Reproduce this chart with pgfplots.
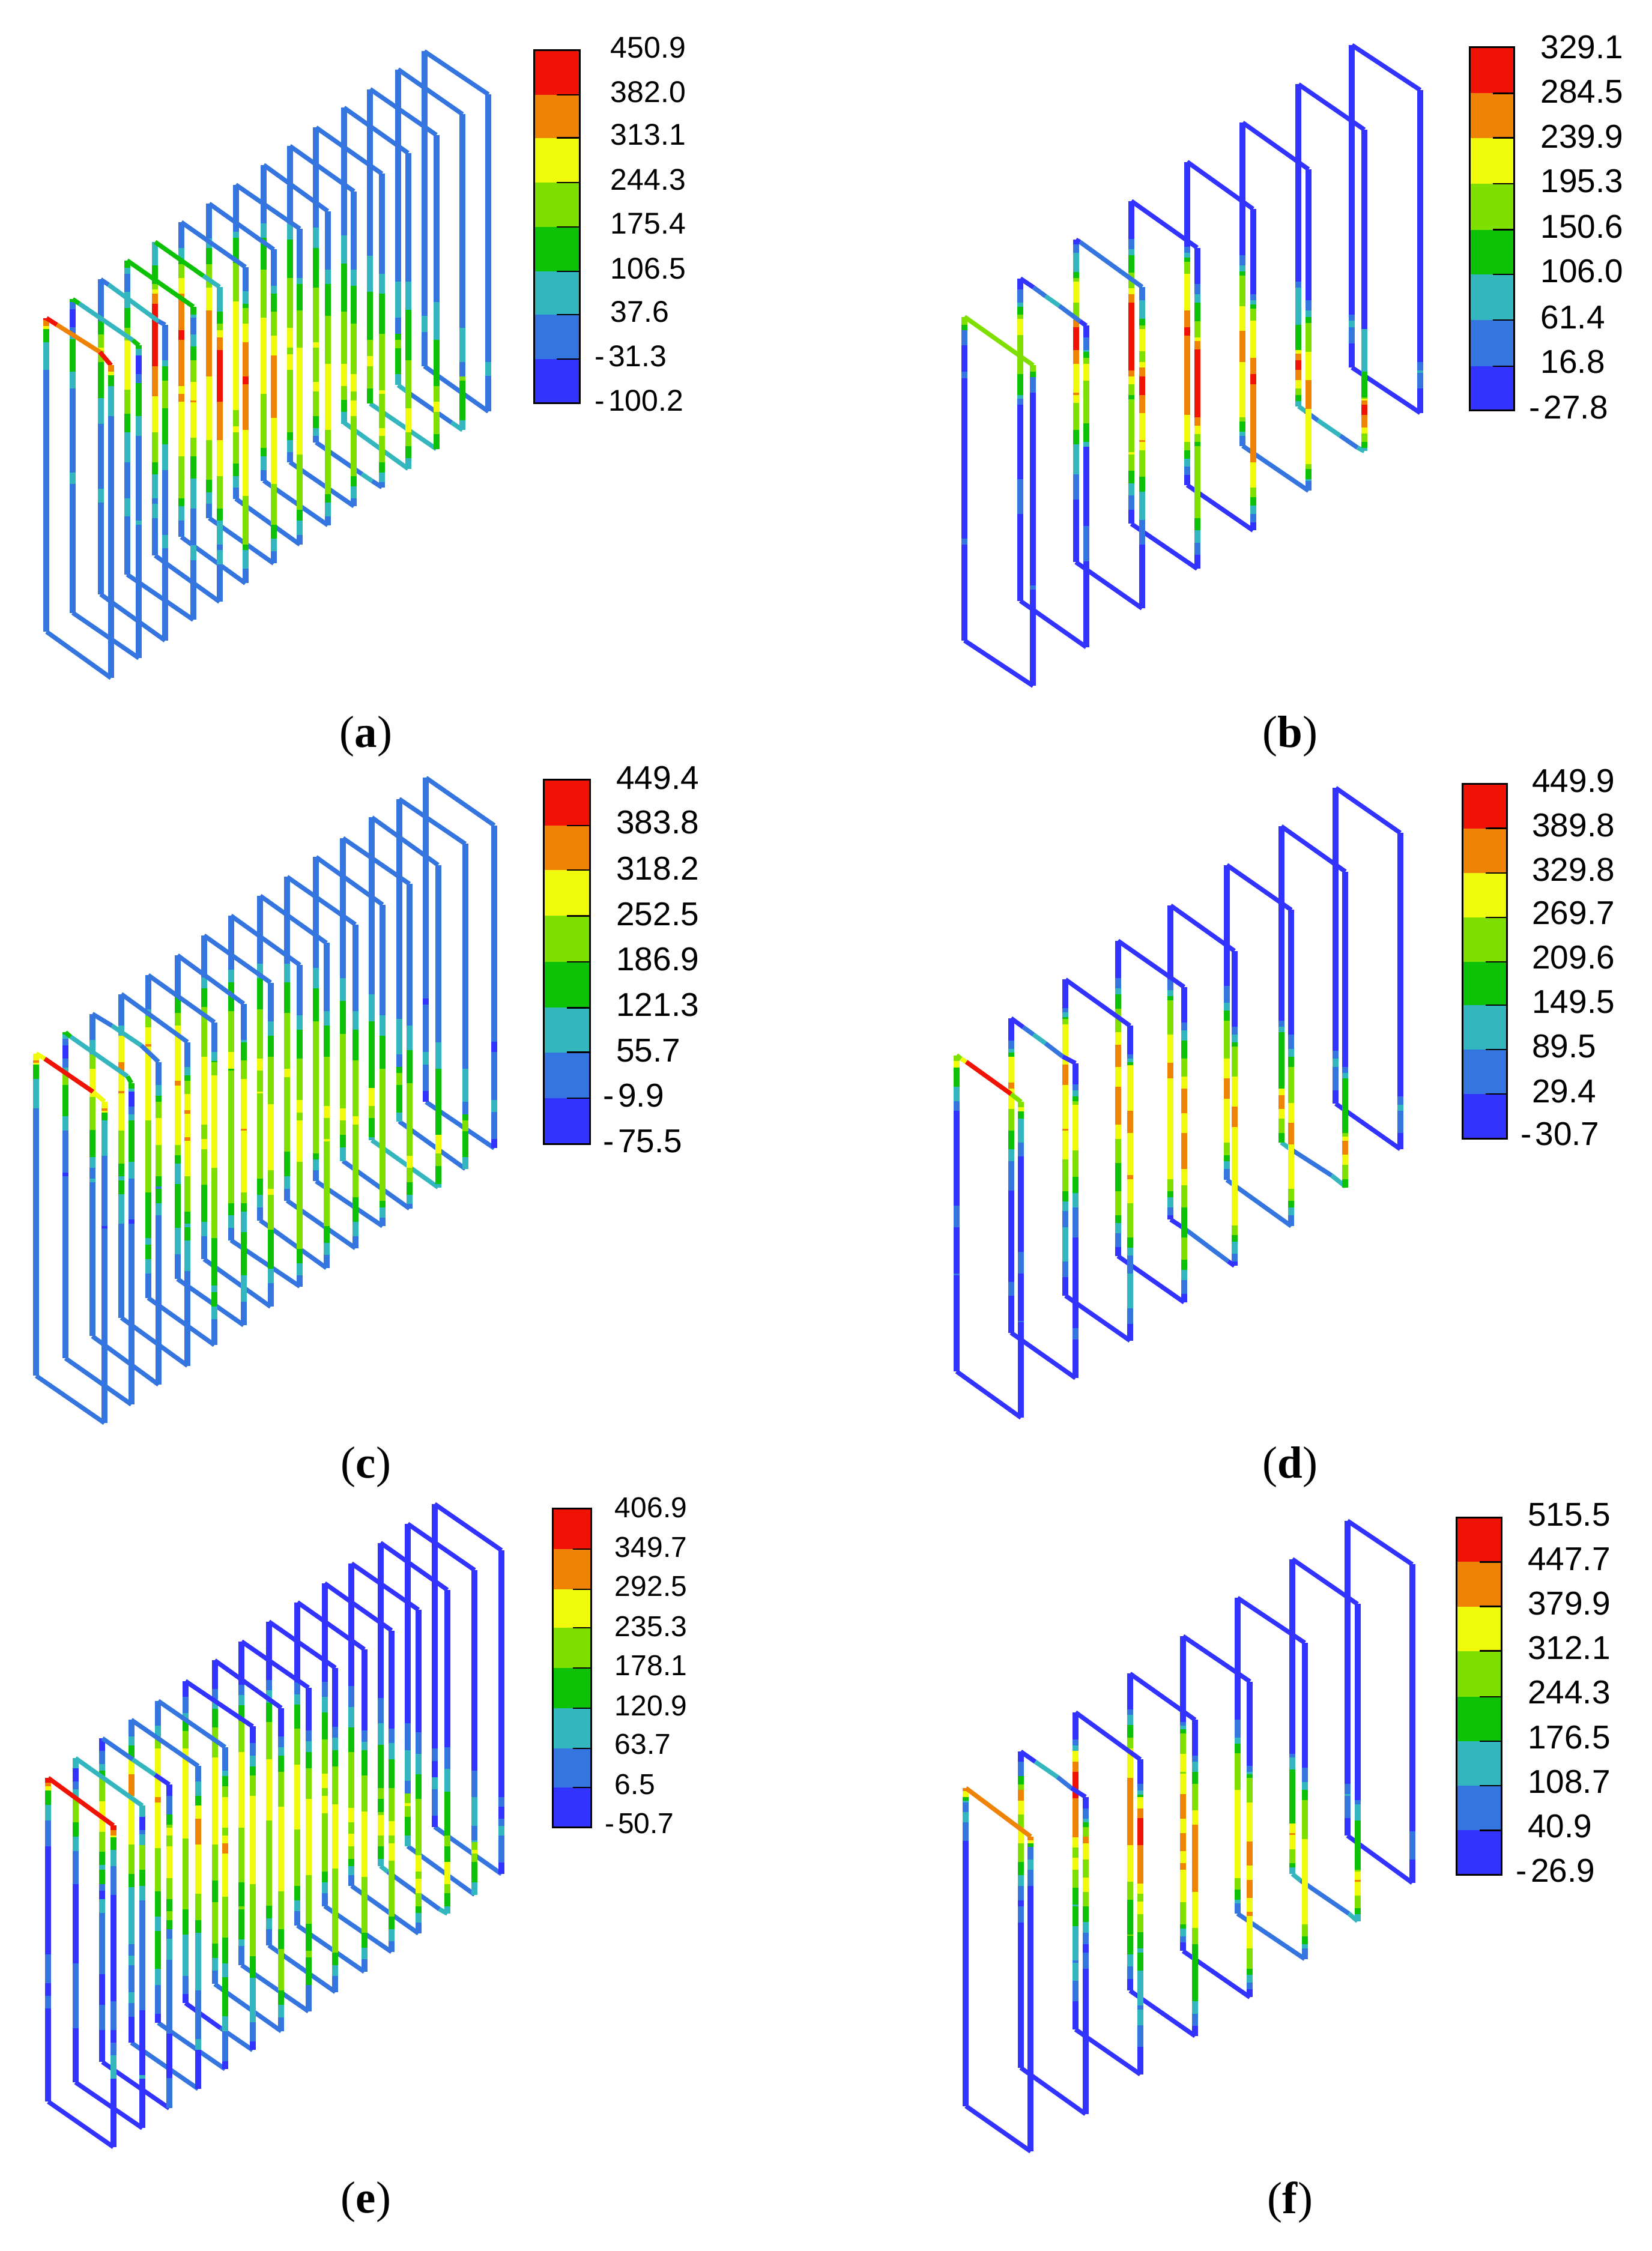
\documentclass[border=0pt]{standalone}
\usepackage{fontspec}
\setmainfont{Liberation Sans}
\newfontfamily\capfont{Liberation Serif}
\usepackage{pgfplots}
\pgfplotsset{compat=1.18}
\definecolor{cd}{HTML}{3333FF}
\definecolor{cb}{HTML}{3575DF}
\definecolor{ct}{HTML}{33B6BE}
\definecolor{cg}{HTML}{0DC106}
\definecolor{cl}{HTML}{7FE000}
\definecolor{cy}{HTML}{EFFB0A}
\definecolor{co}{HTML}{EE8305}
\definecolor{cr}{HTML}{F01204}
\tikzset{vw/.style={line width=2pt,line cap=butt},sw/.style={line width=1.5pt,line cap=butt}}
% vertical wire: x, start y, colour/end y list
\newcommand\Wi[3]{\xdef\wy{#2}\foreach\cc/\yy in {#3}{\edef\tmp{\noexpand\addplot[vw,draw=c\cc] coordinates {(#1,\wy)(#1,\yy)};}\tmp\xdef\wy{\yy}}}
% slanted wire: start x, start y, colour/x/y list
\newcommand\Sl[3]{\xdef\wx{#1}\xdef\wy{#2}\foreach\cc/\xx/\yy in {#3}{\edef\tmp{\noexpand\addplot[sw,draw=c\cc] coordinates {(\wx,\wy)(\xx,\yy)};}\tmp\xdef\wx{\xx}\xdef\wy{\yy}}}
% colour bar: x0, x1, top y, colour/lower y list, bottom y
\newcommand\CB[5]{\xdef\wy{#3}\foreach\cc/\yy in {#4}{\edef\tmp{\noexpand\addplot[fill=c\cc,draw=none] coordinates {(#1,\wy)(#2,\wy)(#2,\yy)(#1,\yy)} -- cycle;}\tmp\xdef\wy{\yy}}%
\addplot[black,line width=.6pt] coordinates {(#1,#3)(#2,#3)(#2,#5)(#1,#5)} -- cycle;}
\newcommand\Tk[3]{\addplot[black,line width=.45pt] coordinates {(#1,#3)(#2,#3)};}
\newcommand\Lab[4]{\node[anchor=west,inner sep=0pt,font=\fontsize{#1}{12}\selectfont] at (axis cs:#2,#3) {#4};}
\newcommand\Neg{-\kern1.2pt}
\newcommand\Cap[3]{\node[inner sep=0pt,font=\fontsize{15}{17}\capfont] at (axis cs:#1,#2) {(\textbf{#3})};}
\pgfplotsset{panel/.style={scale only axis,hide axis,clip=false,width=180pt,height=230pt,xmin=0,xmax=1568,ymin=0,ymax=1568,y dir=reverse,anchor=south west}}
\begin{document}
\begin{tikzpicture}
\path[use as bounding box] (0,0) rectangle (550.2pt,749.8pt);
% colour bars and captions, in the coordinates of the 1151x1568 view
\begin{axis}[scale only axis,hide axis,clip=false,width=550.2pt,height=749.8pt,xmin=0,xmax=1151,ymin=0,ymax=1568,y dir=reverse,at={(0,0)},anchor=south west]
\CB{372}{404}{35}{r/66,o/96,y/127,l/158,g/189,t/219,b/250,d/281}{281}
\Tk{388}{404}{66}\Tk{388}{404}{96}\Tk{388}{404}{127}\Tk{388}{404}{158}\Tk{388}{404}{189}\Tk{388}{404}{219}\Tk{388}{404}{250}
\Lab{10}{425}{33}{450.9}\Lab{10}{425}{64}{382.0}\Lab{10}{425}{94}{313.1}\Lab{10}{425}{125}{244.3}\Lab{10}{425}{156}{175.4}\Lab{10}{425}{187}{106.5}\Lab{10}{425}{217}{37.6}\Lab{10}{414}{248}{\Neg 31.3}\Lab{10}{414}{279}{\Neg 100.2}
\CB{1024}{1055}{33}{r/65,o/96,y/128,l/160,g/191,t/223,b/255,d/286}{286}
\Tk{1040}{1055}{65}\Tk{1040}{1055}{96}\Tk{1040}{1055}{128}\Tk{1040}{1055}{160}\Tk{1040}{1055}{191}\Tk{1040}{1055}{223}\Tk{1040}{1055}{255}
\Lab{11}{1073}{33}{329.1}\Lab{11}{1073}{64}{284.5}\Lab{11}{1073}{95}{239.9}\Lab{11}{1073}{126}{195.3}\Lab{11}{1073}{158}{150.6}\Lab{11}{1073}{189}{106.0}\Lab{11}{1073}{221}{61.4}\Lab{11}{1073}{252}{16.8}\Lab{11}{1065}{284}{\Neg 27.8}
\CB{379}{411}{543}{r/575,o/606,y/638,l/670,g/702,t/733,b/765,d/797}{797}
\Tk{395}{411}{575}\Tk{395}{411}{606}\Tk{395}{411}{638}\Tk{395}{411}{670}\Tk{395}{411}{702}\Tk{395}{411}{733}\Tk{395}{411}{765}
\Lab{11}{429}{542}{449.4}\Lab{11}{429}{573}{383.8}\Lab{11}{429}{605}{318.2}\Lab{11}{429}{637}{252.5}\Lab{11}{429}{668}{186.9}\Lab{11}{429}{700}{121.3}\Lab{11}{429}{732}{55.7}\Lab{11}{420}{763}{\Neg 9.9}\Lab{11}{420}{795}{\Neg 75.5}
\CB{1019}{1050}{546}{r/577,o/608,y/639,l/670,g/700,t/731,b/762,d/793}{793}
\Tk{1035}{1050}{577}\Tk{1035}{1050}{608}\Tk{1035}{1050}{639}\Tk{1035}{1050}{670}\Tk{1035}{1050}{700}\Tk{1035}{1050}{731}\Tk{1035}{1050}{762}
\Lab{11}{1067}{544}{449.9}\Lab{11}{1067}{575}{389.8}\Lab{11}{1067}{606}{329.8}\Lab{11}{1067}{636}{269.7}\Lab{11}{1067}{667}{209.6}\Lab{11}{1067}{698}{149.5}\Lab{11}{1067}{729}{89.5}\Lab{11}{1067}{760}{29.4}\Lab{11}{1059}{790}{\Neg 30.7}
\CB{385}{412}{1051}{r/1079,o/1107,y/1134,l/1162,g/1190,t/1218,b/1245,d/1273}{1273}
\Tk{399}{412}{1079}\Tk{399}{412}{1107}\Tk{399}{412}{1134}\Tk{399}{412}{1162}\Tk{399}{412}{1190}\Tk{399}{412}{1218}\Tk{399}{412}{1245}
\Lab{9.6}{428}{1050}{406.9}\Lab{9.6}{428}{1078}{349.7}\Lab{9.6}{428}{1105}{292.5}\Lab{9.6}{428}{1133}{235.3}\Lab{9.6}{428}{1160}{178.1}\Lab{9.6}{428}{1188}{120.9}\Lab{9.6}{428}{1215}{63.7}\Lab{9.6}{428}{1243}{6.5}\Lab{9.6}{421}{1270}{\Neg 50.7}
\CB{1015}{1046}{1057}{r/1088,o/1119,y/1150,l/1182,g/1213,t/1244,b/1275,d/1306}{1306}
\Tk{1031}{1046}{1088}\Tk{1031}{1046}{1119}\Tk{1031}{1046}{1150}\Tk{1031}{1046}{1182}\Tk{1031}{1046}{1213}\Tk{1031}{1046}{1244}\Tk{1031}{1046}{1275}
\Lab{11}{1064}{1055}{515.5}\Lab{11}{1064}{1086}{447.7}\Lab{11}{1064}{1117}{379.9}\Lab{11}{1064}{1148}{312.1}\Lab{11}{1064}{1179}{244.3}\Lab{11}{1064}{1210}{176.5}\Lab{11}{1064}{1241}{108.7}\Lab{11}{1064}{1272}{40.9}\Lab{11}{1056}{1303}{\Neg 26.9}
\Cap{255}{513}{a}\Cap{899}{513}{b}\Cap{255}{1022}{c}\Cap{899}{1022}{d}\Cap{255}{1534}{e}\Cap{899}{1534}{f}
\end{axis}
% panel (a)
\begin{axis}[panel,at={(0pt,511.8pt)}]
\Sl{1231}{777}{b/1417/880}\Wi{1231}{62}{b/663,t/699,b/777}\Sl{1231}{62}{b/1417/160}\Wi{1417}{160}{b/768,t/799,b/880}
\Sl{1155}{820}{t/1190/840,b/1310/905,t/1342/922}\Wi{1155}{103}{b/585,t/667,b/704,g/717,l/736,g/795,t/820}\Sl{1155}{103}{b/1342/205}\Wi{1342}{205}{b/690,t/768,b/800,l/810,g/900,t/922}
\Sl{1074}{862}{t/1266/965}\Wi{1074}{148}{b/526,t/608,g/717,l/754,y/777,l/827,g/862}\Sl{1074}{148}{b/1266/252}\Wi{1266}{252}{b/631,t/717,g/822,l/858,y/881,l/931,g/965}
\Sl{998}{905}{t/1184/1010}\Wi{998}{190}{b/480,t/544,g/653,l/772,y/822,l/854,g/881,t/908}\Sl{998}{190}{b/1184/293}\Wi{1184}{293}{b/585,t/649,g/763,l/873,y/927,l/959,g/986,t/1010}
\Sl{917}{950}{b/1050/1022,t/1080/1038,b/1108/1052}\Wi{917}{235}{b/462,t/508,g/598,l/722,y/735,l/813,y/835,l/890,g/918,t/936,b/950}\Sl{917}{235}{b/1108/340}\Wi{1108}{340}{b/567,t/612,g/704,l/832,y/840,l/918,y/936,l/995,g/1018,t/1040,b/1052}
\Sl{841}{995}{b/1027/1095}\Wi{841}{277}{b/453,t/490,g/577,l/690,y/735,l/750,y/785,l/927,g/945,t/972,b/995}\Sl{841}{277}{b/1027/380}\Wi{1027}{380}{b/558,t/595,g/680,l/795,y/835,l/855,y/890,l/1027,g/1050,t/1077,b/1095}
\Sl{765}{1037}{b/951/1138}\Wi{765}{320}{b/453,t/485,g/558,l/667,y/840,l/963,g/982,t/1013,b/1037}\Sl{765}{320}{b/951/425}\Wi{951}{425}{b/558,t/590,g/663,l/772,y/922,l/1068,g/1087,t/1118,b/1138}
\Sl{684}{1078}{b/870/1182}\Wi{684}{365}{b/472,t/485,g/543,l/630,y/877,l/913,y/927,l/998,g/1027,t/1053,b/1078}\Sl{684}{365}{b/870/465}\Wi{870}{465}{b/577,t/590,g/650,l/735,y/977,l/1103,g/1127,t/1160,b/1182}
\Sl{607}{1122}{b/794/1225}\Wi{607}{408}{b/487,t/508,g/545,l/598,y/650,o/800,y/945,l/1035,g/1063,t/1090,b/1122}\Sl{607}{408}{b/794/512}\Wi{794}{512}{b/595,t/612,g/653,l/708,y/753,o/894,y/1045,l/1137,g/1168,t/1197,b/1225}
\Sl{526}{1165}{b/712/1270}\Wi{526}{450}{b/508,t/540,g/545,l/577,y/612,o/695,r/717,o/822,y/840,o/858,y/982,l/1077,g/1095,t/1127,b/1165}\Sl{526}{450}{b/712/552}\Wi{712}{552}{b/607,t/635,g/645,l/680,y/722,o/800,r/818,o/922,y/1072,l/1182,g/1195,t/1237,b/1270}
\Sl{450}{1207}{b/637/1312}\Wi{450}{495}{t/548,g/590,l/603,y/612,o/635,r/777,o/845,y/927,l/995,g/1023,t/1077,b/1090,t/1122,b/1207}\Sl{450}{495}{g/590/572,t/637/597}\Wi{637}{597}{t/653,g/680,l/695,y/712,o/740,r/858,o/945,y/1027,l/1100,g/1127,t/1182,b/1195,t/1227,b/1312}
\Sl{369}{1250}{b/561/1353}\Wi{369}{537}{g/553,t/567,b/608,t/645,g/690,l/718,y/830,l/885,g/927,t/995,b/1077,t/1118,b/1250}\Sl{369}{537}{g/561/642}\Wi{561}{642}{g/660,t/667,b/705,t/732,g/763,l/813,y/855,o/859,y/940,l/982,g/1032,t/1100,b/1183,t/1218,b/1353}
\Sl{292}{1295}{b/479/1400}\Wi{292}{580}{b/675,g/705,l/735,y/742,l/768,g/850,t/908,b/1055,t/1087,b/1295}\Sl{292}{580}{b/315/592,t/460/675,b/479/683}\Wi{479}{683}{b/763,t/777,g/810,l/873,g/955,t/1013,b/1160,t/1190,b/1400}
\Sl{211}{1337}{b/403/1440}\Wi{211}{625}{g/632,b/648,d/688,b/706,t/716,g/790,t/827,b/1018,t/1045,b/1337}\Sl{211}{625}{g/230/635,t/385/718,g/403/730}\Wi{403}{730}{g/737,t/752,d/795,b/815,g/890,t/935,b/1128,t/1137,b/1440}
\Sl{135}{1380}{b/322/1485}\Wi{135}{668}{r/672,o/686,y/693,g/722,t/785,b/1380}\Sl{135}{668}{r/165/683,o/290/745,r/322/775}\Wi{322}{775}{o/790,y/797,g/822,t/890,b/1485}
\end{axis}
% panel (b)
\begin{axis}[panel,at={(300pt,511.8pt)}]
\Sl{1309}{780}{d/1507/883}\Wi{1309}{48}{d/660,b/674,t/689,b/725,d/780}\Sl{1309}{48}{d/1507/150}\Wi{1507}{150}{d/768,b/787,t/792,b/828,d/883}
\Sl{1154}{868}{t/1175/880,b/1210/900,t/1275/935,b/1325/962,t/1345/970}\Wi{1154}{137}{d/585,b/599,t/683,g/740,y/748,o/763,r/786,o/809,y/828,l/842,g/856,t/868}\Sl{1154}{137}{d/1345/240}\Wi{1345}{240}{d/693,t/790,g/848,l/851,y/855,o/865,r/888,o/916,y/930,l/949,g/963,t/970}
\Sl{992}{958}{b/1183/1060}\Wi{992}{224}{d/525,b/548,t/562,g/571,l/641,y/697,o/767,y/893,l/903,g/926,t/935,b/958}\Sl{992}{224}{d/1183/330}\Wi{1183}{330}{d/627,b/651,t/665,g/679,l/744,y/809,o/874,y/1000,l/1010,g/1033,t/1037,b/1060}
\Sl{831}{1047}{d/1022/1150}\Wi{831}{313}{d/506,b/520,t/530,g/540,l/567,y/650,o/688,r/707,o/888,y/949,l/968,g/987,t/1005,b/1024,d/1047}\Sl{831}{313}{d/1022/420}\Wi{1022}{420}{d/614,b/627,t/637,g/646,l/674,y/758,o/795,r/818,o/996,y/1052,l/1075,g/1094,t/1112,b/1132,d/1150}
\Sl{669}{1135}{d/860/1237}\Wi{669}{402}{d/488,b/512,t/525,g/565,l/600,y/613,o/632,r/787,o/800,y/818,l/842,g/852,l/972,y/977,l/1014,g/1043,t/1070,b/1103,d/1135}\Sl{669}{402}{d/860/508}\Wi{860}{508}{d/590,b/614,t/633,g/675,l/712,y/720,o/739,r/893,o/912,y/931,l/949,g/959,l/1122,g/1150,t/1178,b/1205,d/1237}
\Sl{508}{1222}{d/700/1327}\Wi{508}{490}{d/500,b/520,t/563,g/577,l/585,y/632,l/672,o/688,r/740,o/772,y/837,o/842,y/860,l/922,g/954,t/1023,b/1080,d/1222}\Sl{508}{490}{d/520/495,b/700/597}\Wi{700}{597}{b/627,t/669,g/684,l/693,y/743,l/768,y/780,o/800,r/843,o/884,y/945,o/949,y/968,l/1028,g/1062,t/1126,b/1182,d/1327}
\Sl{347}{1310}{d/538/1415}\Wi{347}{578}{d/603,b/632,t/642,g/660,l/669,y/706,l/795,g/843,t/851,b/865,d/1033,b/1113,d/1310}\Sl{347}{578}{d/385/598,b/420/618,t/460/640,b/520/675,d/538/685}\Wi{538}{685}{d/712,b/740,t/744,g/758,l/772,y/810,l/907,g/949,t/960,d/1140,b/1220,d/1415}
\Sl{185}{1400}{d/384/1503}\Wi{185}{665}{l/683,g/695,b/730,d/790,b/804,d/1168,b/1182,d/1400}\Sl{185}{665}{l/384/775}\Wi{384}{775}{l/790,g/802,b/837,d/1275,b/1285,d/1503}
\end{axis}
% panel (c)
\begin{axis}[panel,at={(0pt,269.8pt)}]
\Sl{1236}{798}{b/1434/903}\Wi{1236}{62}{b/563,d/577,b/685,t/713,b/773,d/798}\Sl{1236}{62}{b/1434/170}\Wi{1434}{170}{b/661,d/685,b/794,t/821,b/882,d/903}
\Sl{1158}{842}{b/1350/950}\Wi{1158}{110}{b/610,t/690,b/718,g/732,l/760,g/822,t/842}\Sl{1158}{110}{b/1350/212}\Wi{1350}{212}{b/723,t/798,b/826,g/840,l/864,g/923,t/950}
\Sl{1079}{885}{t/1271/992}\Wi{1079}{152}{b/554,t/615,g/766,y/807,l/835,g/878,t/885}\Sl{1079}{152}{b/1271/260}\Wi{1271}{260}{b/662,t/723,g/873,y/915,l/943,g/985,t/992}
\Sl{995}{932}{b/1188/1040}\Wi{995}{199}{b/517,t/568,g/643,l/812,y/840,l/873,g/901,t/932}\Sl{995}{199}{b/1188/303}\Wi{1188}{303}{b/624,t/680,g/755,l/920,y/948,l/981,g/1009,t/1029,b/1040}
\Sl{917}{978}{b/1110/1080}\Wi{917}{242}{b/493,t/540,g/615,l/915,g/929,t/953,b/978}\Sl{917}{242}{b/1110/350}\Wi{1110}{350}{b/601,t/648,g/723,l/1023,g/1037,t/1061,b/1080}
\Sl{833}{1022}{b/1031/1130}\Wi{833}{287}{b/484,t/526,g/596,l/723,y/742,l/911,g/967,t/995,b/1022}\Sl{833}{287}{b/1031/395}\Wi{1031}{395}{b/592,t/634,g/704,l/831,y/849,l/1014,g/1070,t/1103,b/1130}
\Sl{755}{1067}{b/947/1175}\Wi{755}{330}{b/484,t/517,g/587,l/699,y/727,l/775,y/779,l/972,g/1009,t/1037,b/1067}\Sl{755}{330}{b/947/437}\Wi{947}{437}{b/592,t/624,g/695,l/807,y/835,l/882,y/887,l/1080,g/1118,t/1146,b/1175}
\Sl{670}{1112}{b/870/1217}\Wi{670}{375}{b/498,t/526,g/592,l/685,y/723,g/727,l/830,y/830,l/1028,g/1056,t/1084,b/1112}\Sl{670}{375}{b/870/487}\Wi{870}{487}{b/601,t/634,g/700,l/794,y/822,l/840,y/934,l/1132,g/1164,t/1192,b/1217}
\Sl{592}{1155}{b/785/1263}\Wi{592}{420}{b/515,t/540,g/582,l/695,y/849,l/882,y/905,l/986,g/1070,t/1103,b/1155}\Sl{592}{420}{b/785/527}\Wi{785}{527}{b/615,t/648,g/695,l/803,y/953,l/995,y/1009,l/1088,g/1177,t/1210,b/1263}
\Sl{515}{1200}{b/707/1305}\Wi{515}{465}{b/558,g/596,l/624,y/750,o/761,y/896,l/919,g/938,t/985,g/1084,t/1144,b/1200}\Sl{515}{465}{b/707/575}\Wi{707}{575}{b/657,t/662,g/704,l/746,y/859,o/863,y/1004,l/1028,g/1047,t/1093,g/1192,t/1252,b/1305}
\Sl{430}{1243}{b/622/1350}\Wi{430}{510}{b/588,t/603,l/628,y/667,o/672,y/840,l/1004,g/1107,t/1122,g/1155,t/1188,b/1243}\Sl{430}{510}{b/622/617}\Wi{622}{617}{b/685,t/705,g/708,l/737,y/948,l/1107,g/1215,t/1230,g/1263,t/1291,b/1350}
\Sl{352}{1288}{b/544/1397}\Wi{352}{553}{b/625,t/648,y/708,o/728,y/773,o/779,y/863,l/938,g/967,t/976,g/1008,t/1074,b/1288}\Sl{352}{553}{b/544/662}\Wi{544}{662}{b/718,t/737,g/750,l/780,y/817,o/825,y/878,o/886,y/967,l/1047,g/1075,t/1083,g/1113,t/1182,b/1397}
\Sl{268}{1330}{b/460/1440}\Wi{268}{598}{b/657,t/690,l/723,y/787,l/862,g/923,t/948,b/972,t/980,b/1330}\Sl{268}{598}{b/325/625,t/410/670,b/460/707}\Wi{460}{707}{b/760,t/784,g/797,l/835,y/896,l/967,g/990,b/995,g/1028,t/1056,b/1440}
\Sl{190}{1380}{b/381/1485}\Wi{190}{640}{g/645,t/655,b/670,d/700,b/720,t/730,l/760,g/830,t/863,b/958,d/967,b/1380}\Sl{190}{640}{g/205/650,t/370/740,g/381/755}\Wi{381}{755}{g/768,t/775,d/808,b/826,t/840,g/934,t/972,b/1065,d/1075,b/1485}
\Sl{105}{1420}{b/303/1527}\Wi{105}{688}{y/703,o/709,y/713,g/746,t/812,b/1420}\Sl{105}{688}{y/130/700,r/270/775,y/303/797}\Wi{303}{797}{y/812,o/818,y/822,g/840,t/920,b/1080,d/1085,b/1527}
\end{axis}
% panel (d)
\begin{axis}[panel,at={(300pt,269.8pt)}]
\Sl{1262}{802}{d/1449/905}\Wi{1262}{85}{d/682,b/700,t/718,b/772,d/802}\Sl{1262}{85}{d/1449/187}\Wi{1449}{187}{d/786,b/804,t/818,b/868,d/905}
\Sl{1104}{890}{t/1125/902,b/1250/965,t/1290/990}\Wi{1104}{172}{d/613,b/627,t/640,g/768,y/782,o/814,y/836,l/868,g/890}\Sl{1104}{172}{d/1290/275}\Wi{1290}{275}{d/718,b/732,t/745,g/869,l/877,y/886,o/918,y/941,l/973,g/993}
\Sl{946}{975}{b/1133/1080}\Wi{946}{260}{d/535,b/572,t/590,g/613,l/699,y/745,o/791,y/891,l/919,g/933,t/950,b/975}\Sl{946}{260}{d/1133/362}\Wi{1133}{362}{d/645,b/677,t/695,g/718,l/800,y/845,o/895,y/996,l/1023,g/1037,t/1055,b/1080}
\Sl{783}{1065}{d/822/1085,b/950/1160,d/968/1170}\Wi{783}{352}{d/520,b/544,t/558,g/567,l/645,y/709,o/745,y/973,l/1001,g/1014,t/1037,b/1055,d/1065}\Sl{783}{352}{d/968/455}\Wi{968}{455}{d/627,b/645,t/663,g/672,l/740,y/809,o/855,y/1078,l/1101,g/1115,t/1142,b/1160,d/1170}
\Sl{630}{1148}{d/822/1253}\Wi{630}{432}{d/517,b/540,t/554,g/586,l/640,y/668,o/718,y/764,o/850,y/882,l/937,g/1001,l/1055,g/1073,t/1096,b/1128,d/1148}\Sl{630}{432}{d/822/537}\Wi{822}{537}{d/618,b/635,t/659,g/699,l/740,y/768,o/823,y/868,o/950,y/987,l/1038,g/1106,l/1156,g/1179,t/1202,b/1234,d/1253}
\Sl{478}{1238}{d/665/1340}\Wi{478}{520}{d/585,b/594,t/605,g/610,l/622,y/713,o/759,y/859,o/863,y/928,l/1001,g/1024,t/1046,b/1083,t/1160,b/1196,d/1238}\Sl{478}{520}{d/665/625}\Wi{665}{625}{d/690,b/700,t/708,g/714,y/818,o/869,y/964,o/973,y/1028,l/1106,g/1129,t/1147,b/1188,t/1266,b/1302,d/1340}
\Sl{320}{1322}{d/507/1425}\Wi{320}{608}{d/658,b/677,t/686,g/696,y/754,o/768,y/814,l/863,g/905,t/932,b/1000,d/1207,b/1238,d/1322}\Sl{320}{608}{d/355/628,b/385/645,t/420/665,b/470/695,d/507/710}\Wi{507}{710}{d/758,b/772,t/786,g/796,l/805,y/908,l/968,g/1005,t/1038,b/1106,d/1312,b/1338,d/1425}
\Sl{162}{1410}{d/349/1515}\Wi{162}{692}{l/705,y/720,g/764,t/796,b/818,d/1033,b/1083,d/1188,b/1192,d/1410}\Sl{162}{692}{l/175/700,y/190/707,r/320/780,l/349/798}\Wi{349}{798}{l/810,y/820,g/836,t/890,b/922,d/1138,b/1188,d/1295,b/1298,d/1515}
\end{axis}
% panel (e)
\begin{axis}[panel,at={(0pt,29.8pt)}]
\Sl{1261}{808}{b/1455/915}\Wi{1261}{75}{d/630,b/659,d/695,t/722,b/782,d/808}\Sl{1261}{75}{d/1455/180}\Wi{1455}{180}{d/740,b/762,d/790,b/806,t/827,b/889,d/915}
\Sl{1183}{852}{b/1377/962}\Wi{1183}{120}{d/573,b/634,t/704,b/732,l/754,y/761,l/786,g/828,t/852}\Sl{1183}{120}{d/1377/225}\Wi{1377}{225}{d/680,b/740,t/806,b/838,t/842,l/860,y/869,l/888,g/934,t/962}
\Sl{1104}{897}{t/1125/910,b/1275/995,t/1298/1005}\Wi{1104}{163}{d/516,b/573,t/622,g/720,l/745,g/774,l/781,y/828,l/852,g/881,t/897}\Sl{1104}{163}{d/1298/270}\Wi{1298}{270}{d/627,b/676,t/728,g/828,l/852,g/888,y/938,l/959,g/988,t/1005}
\Sl{1020}{942}{b/1214/1050}\Wi{1020}{210}{d/488,b/536,t/582,g/638,l/765,y/798,l/824,y/852,l/881,g/897,t/918,b/942}\Sl{1020}{210}{d/1214/315}\Wi{1214}{315}{d/593,b/642,t/688,g/744,l/873,y/909,l/926,y/959,l/988,g/1003,t/1025,b/1050}
\Sl{942}{988}{b/1136/1092}\Wi{942}{255}{d/478,b/512,t/548,g/610,l/687,y/720,l/737,y/777,l/909,g/934,t/959,b/988}\Sl{942}{255}{d/1136/362}\Wi{1136}{362}{d/585,b/618,t/654,g/720,l/795,y/828,l/845,y/885,l/1012,g/1040,t/1067,b/1092}
\Sl{863}{1032}{b/1057/1137}\Wi{863}{298}{d/480,b/507,t/531,g/585,l/667,y/814,l/942,g/975,t/1000,b/1032}\Sl{863}{298}{d/1057/405}\Wi{1057}{405}{d/589,b/615,t/634,g/691,l/773,y/922,l/1049,g/1083,t/1108,b/1137}
\Sl{780}{1077}{b/973/1183}\Wi{780}{342}{d/474,b/498,t/526,g/570,l/655,y/794,l/987,g/1016,t/1040,b/1077}\Sl{780}{342}{d/973/447}\Wi{973}{447}{d/581,b/606,t/634,g/671,l/757,y/902,l/1094,g/1122,t/1146,b/1183}
\Sl{701}{1122}{b/895/1227}\Wi{701}{387}{d/485,b/508,t/532,g/567,l/638,y/810,l/934,g/988,l/995,g/1063,t/1078,b/1122}\Sl{701}{387}{d/895/492}\Wi{895}{492}{d/589,b/614,t/638,g/675,l/745,y/918,l/1028,g/1090,l/1105,g/1167,b/1227}
\Sl{623}{1165}{b/816/1272}\Wi{623}{430}{d/495,b/518,t/540,g/582,l/650,y/848,l/930,g/979,l/1073,g/1106,t/1134,b/1165}\Sl{623}{430}{d/816/538}\Wi{816}{538}{d/602,b/627,t/646,g/683,l/762,y/954,l/1040,g/1085,l/1180,g/1212,t/1241,b/1272}
\Sl{538}{1208}{d/640/1265,b/733/1315}\Wi{538}{477}{d/512,b/550,t/562,g/590,l/630,y/835,l/995,g/1053,t/1147,b/1188,d/1208}\Sl{538}{477}{d/733/580}\Wi{733}{580}{d/618,b/646,t/671,g/691,l/737,y/938,l/1102,g/1151,t/1252,b/1295,d/1315}
\Sl{459}{1253}{b/653/1358}\Wi{459}{522}{b/578,t/608,l/630,y/740,o/752,y/856,l/955,g/1012,t/1045,g/1130,t/1167,b/1232,d/1253}\Sl{459}{522}{b/653/627}\Wi{653}{627}{b/680,t/692,g/716,l/740,y/810,l/828,y/845,o/868,y/967,l/1060,g/1118,t/1150,g/1238,t/1272,b/1340,d/1358}
\Sl{381}{1298}{b/575/1403}\Wi{381}{565}{b/602,t/623,g/655,y/688,o/738,y/848,l/915,g/945,t/1075,b/1100,t/1122,b/1183,t/1208,b/1240,d/1298}\Sl{381}{565}{b/575/670}\Wi{575}{670}{b/705,t/738,g/760,y/790,o/848,y/960,l/1020,g/1049,t/1180,b/1290,t/1315,d/1403}
\Sl{297}{1342}{d/491/1447}\Wi{297}{607}{d/635,b/665,t/680,g/695,l/750,y/820,l/865,g/895,t/905,g/938,b/953,d/972,t/1003,b/1143,d/1212,b/1270,d/1342}\Sl{297}{607}{b/385/655,t/450/690,d/491/712}\Wi{491}{712}{d/737,b/780,g/803,l/810,y/828,l/852,y/925,l/972,g/1000,l/1020,g/1040,b/1062,t/1110,b/1278,d/1378,b/1447}
\Sl{219}{1388}{d/413/1492}\Wi{219}{652}{t/675,d/705,b/722,t/740,l/798,g/830,t/863,b/938,d/1118,b/1265,d/1388}\Sl{219}{652}{t/413/760}\Wi{413}{760}{t/785,d/815,b/825,t/850,l/905,g/942,t/975,b/1225,d/1372,t/1380,d/1492}
\Sl{140}{1432}{d/329/1535}\Wi{140}{697}{r/708,o/716,y/725,g/758,t/794,b/852,d/1098,b/1163,d/1192,b/1220,d/1432}\Sl{140}{697}{r/329/805}\Wi{329}{805}{r/815,o/828,y/832,g/860,t/897,b/963,d/1204,b/1270,d/1298,b/1326,t/1380,d/1535}
\end{axis}
% panel (f)
\begin{axis}[panel,at={(300pt,29.8pt)}]
\Sl{1296}{828}{d/1484/935}\Wi{1296}{113}{d/710,b/733,t/738,b/788,d/828}\Sl{1296}{113}{d/1484/212}\Wi{1484}{212}{d/818,b/882,d/935}
\Sl{1136}{915}{t/1160/930,b/1300/1005,t/1325/1022}\Wi{1136}{200}{d/642,b/651,t/678,g/801,y/822,o/826,y/859,l/891,g/900,t/915}\Sl{1136}{200}{d/1325/302}\Wi{1325}{302}{d/747,b/757,t/793,g/905,l/909,y/928,o/933,y/964,l/992,g/1006,t/1022}
\Sl{977}{1005}{b/1172/1108}\Wi{977}{288}{d/564,b/605,t/619,g/641,l/724,y/924,l/950,g/974,t/982,b/1005}\Sl{977}{288}{d/1172/390}\Wi{1172}{390}{d/674,b/706,t/724,g/747,l/836,y/1029,l/1057,g/1075,t/1084,b/1108}
\Sl{819}{1090}{d/1013/1195}\Wi{819}{375}{d/570,b/578,t/586,g/596,l/642,y/683,l/687,y/734,o/789,y/822,o/863,y/890,o/905,y/979,l/1029,g/1039,t/1057,b/1071,d/1090}\Sl{819}{375}{d/1013/478}\Wi{1013}{478}{d/669,b/683,t/688,g/697,l/752,y/841,o/896,y/928,o/969,y/1001,o/1010,y/1084,l/1130,g/1144,t/1162,b/1176,d/1195}
\Sl{665}{1180}{d/854/1283}\Wi{665}{460}{d/541,b/554,t/577,g/605,l/630,y/697,o/849,y/932,l/974,g/1052,l/1056,g/1098,t/1125,b/1153,d/1180}\Sl{665}{460}{d/854/565}\Wi{854}{565}{d/646,b/660,t/683,g/710,l/770,y/803,o/956,y/1038,l/1075,g/1204,t/1232,b/1260,d/1283}
\Sl{507}{1268}{d/695/1370}\Wi{507}{548}{d/610,b/623,t/635,y/660,o/683,r/743,o/832,y/855,l/878,y/905,l/946,g/984,t/988,g/1034,t/1111,b/1116,t/1158,b/1204,d/1268}\Sl{507}{548}{d/695/655}\Wi{695}{655}{d/710,b/725,t/735,g/741,y/766,o/788,r/850,o/937,y/960,l/978,y/1006,l/1047,g/1084,t/1093,g/1134,t/1213,b/1223,t/1258,b/1308,d/1370}
\Sl{348}{1355}{d/536/1460}\Wi{348}{637}{d/660,b/692,g/712,l/724,o/748,y/780,l/810,y/845,l/887,g/918,t/942,b/975,d/988,b/1025,d/1355}\Sl{348}{637}{d/390/660,t/455/695,b/495/720,d/536/740}\Wi{536}{740}{d/766,b/790,t/798,g/808,l/830,o/846,y/882,l/923,y/956,l/988,g/1024,t/1048,b/1075,d/1094,b/1130,d/1460}
\Sl{189}{1442}{d/377/1545}\Wi{189}{720}{o/727,y/740,g/748,t/752,b/775,t/798,b/840,d/1442}\Sl{189}{720}{o/377/830}\Wi{377}{830}{o/838,y/845,g/853,b/882,t/905,b/942,d/1545}
\end{axis}
\end{tikzpicture}
\end{document}
